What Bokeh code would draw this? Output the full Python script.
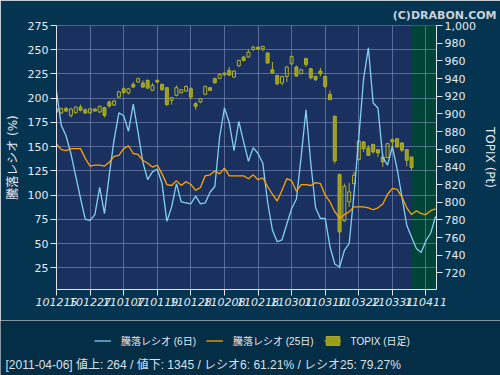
from bokeh.plotting import figure
from bokeh.layouts import column
from bokeh.models import (Range1d, LinearAxis, FixedTicker, NumeralTickFormatter,
                          BoxAnnotation, Legend, LegendItem, ColumnDataSource, Title, Label)
from bokeh.embed import file_html
from bokeh.resources import INLINE

# ---------------- data ----------------
date_labels = ["101215", "101227", "110107", "110119", "110128", "110208",
               "110218", "110301", "110310", "110322", "110331", "110411"]
label_step = 7
ratio_ticks = [25, 50, 75, 100, 125, 150, 175, 200, 225, 250, 275]
topix_ticks = [720, 740, 760, 780, 800, 820, 840, 860, 880, 900, 920, 940, 960, 980, 1000]

ratio6 = [207, 172, 161, 143, 120, 97, 75, 74, 80, 108,
          81, 121, 157, 185, 182, 166, 194, 165, 134, 116,
          124, 127, 112, 73, 88, 112, 93, 92, 91, 99,
          91, 92, 103, 109, 160, 190, 175, 146, 176, 155,
          135, 149, 143, 133, 93, 64, 52, 54, 70, 86,
          96, 140, 188, 133, 87, 76, 76, 47, 29, 26,
          43, 50, 101, 159, 220, 252, 195, 190, 139, 131,
          150, 127, 98, 69, 57, 45, 41, 53, 61, 78]
ratio25 = [153, 147, 146, 148, 148, 148, 138, 130, 131, 131,
           130, 134, 140, 141, 148, 151, 143, 142, 136, 133,
           129, 131, 122, 111, 110, 115, 110, 114, 111, 105,
           108, 120, 121, 125, 122, 128, 120, 120, 120, 120,
           117, 121, 116, 118, 109, 101, 94, 105, 117, 115,
           104, 111, 111, 110, 113, 112, 100, 93, 83, 76,
           80, 83, 88, 88, 88, 87, 85, 87, 91, 101,
           107, 106, 98, 87, 80, 84, 81, 80, 84, 86]

topix_open = [905.8, 901.0, 906.2, 898.3, 901.3, 907.7, 904.7, 901.0, 905.5, 902.1,
              907.0, 913.4, 910.0, 919.0, 928.4, 923.6, 933.3, 936.0, 934.9, 937.9,
              926.6, 937.9, 933.3, 929.6, 915.3, 920.9, 923.9, 925.8, 928.4, 911.5,
              913.4, 922.1, 929.6, 939.8, 940.1, 944.2, 949.2, 941.6, 954.4, 964.3,
              964.3, 973.0, 975.5, 973.7, 968.8, 949.9, 943.5, 934.9, 942.4, 956.7,
              953.0, 945.4, 962.4, 951.0, 942.4, 948.4, 942.4, 922.0, 897.2, 831.6,
              778.9, 800.4, 821.1, 848.2, 868.2, 861.4, 865.5, 859.5, 851.2, 850.5,
              870.8, 871.9, 867.0, 859.5, 851.2]
topix_close = [902.1, 905.8, 903.2, 905.5, 907.7, 904.0, 901.0, 905.8, 903.2, 908.5,
               898.3, 908.9, 914.5, 925.0, 924.3, 928.4, 930.3, 939.8, 930.3, 929.2,
               932.2, 936.0, 927.3, 910.4, 918.3, 929.6, 927.3, 931.1, 919.0, 908.5,
               917.2, 931.1, 926.6, 935.2, 944.6, 946.2, 943.9, 948.4, 960.5, 960.5,
               969.9, 975.5, 973.3, 976.3, 957.5, 946.2, 934.1, 942.4, 953.0, 965.0,
               942.8, 949.9, 956.0, 940.9, 939.0, 945.4, 931.1, 916.0, 846.7, 766.4,
               818.1, 811.7, 830.5, 869.3, 860.6, 853.0, 856.9, 855.7, 845.6, 866.3,
               868.2, 862.5, 858.8, 847.4, 839.2]
topix_high = [907.7, 907.0, 907.5, 907.0, 908.5, 910.4, 906.0, 906.5, 906.0, 909.5,
              908.0, 915.0, 916.0, 926.0, 930.0, 929.5, 936.0, 941.0, 937.9, 939.0,
              934.9, 938.6, 934.5, 930.5, 919.0, 932.2, 928.0, 932.0, 930.3, 913.4,
              918.0, 932.0, 930.0, 941.0, 946.0, 947.0, 953.0, 949.0, 961.0, 965.5,
              972.5, 977.0, 976.0, 977.0, 969.5, 958.6, 944.0, 943.0, 954.0, 966.0,
              954.8, 951.0, 963.5, 952.0, 943.0, 952.2, 943.0, 926.6, 898.0, 832.0,
              821.0, 821.8, 834.3, 870.0, 869.3, 864.4, 866.0, 860.0, 855.0, 867.0,
              872.0, 872.5, 867.5, 860.0, 851.5]
topix_low = [901.0, 900.0, 902.0, 895.7, 900.5, 902.8, 900.0, 900.0, 902.5, 901.0,
             896.0, 907.0, 909.0, 918.0, 923.0, 922.0, 929.6, 935.0, 929.6, 928.0,
             925.8, 934.9, 926.0, 909.0, 910.4, 919.8, 923.0, 925.0, 916.4, 904.7,
             912.0, 921.0, 926.0, 934.0, 939.5, 943.0, 942.8, 941.0, 953.0, 959.5,
             964.0, 971.0, 972.5, 970.7, 957.0, 945.7, 932.2, 932.5, 936.0, 955.0,
             942.3, 945.0, 953.0, 939.0, 937.0, 942.4, 929.0, 916.0, 843.7, 725.0,
             777.7, 794.7, 820.0, 847.5, 856.9, 853.0, 855.0, 851.2, 839.9, 850.0,
             860.6, 862.0, 856.9, 840.7, 836.1]

report_date = "2011-04-06"
advances = 264
declines = 1345
ratio6_last = "61.21"
ratio25_last = "79.27"

# ---------------- derived ----------------
days = list(range(len(ratio6)))
cdays = list(range(len(topix_close)))
body_top = [max(o, c) for o, c in zip(topix_open, topix_close)]
body_bot = [min(o, c) for o, c in zip(topix_open, topix_close)]
body_alpha = [1.0 if c < o else 0.0 for o, c in zip(topix_open, topix_close)]

candle_src = ColumnDataSource(dict(x=cdays, top=body_top, bottom=body_bot,
                                   high=topix_high, low=topix_low, falpha=body_alpha))

FONT = "DejaVu Sans, Noto Sans CJK JP"
JFONT = "Liberation Sans, Noto Sans CJK JP"
TXT = "#e4ebf2"
C6 = "#82cff2"
C25 = "#ffa200"
CFILL = "#9c9c1c"
CLINE = "#b0b026"
tick_pos = [i * label_step for i in range(len(date_labels))]

x_end = len(ratio6) - 1 + 0.2
p = figure(width=500, height=320, output_backend="svg", toolbar_location=None,
           x_range=Range1d(0, x_end), y_range=Range1d(2.75, 275),
           min_border_left=56, min_border_right=64, min_border_top=25, min_border_bottom=31,
           background_fill_color="#1a3160", border_fill_color="#053450",
           outline_line_color=None)
p.frame_align = False
p.extra_y_ranges = {"topix": Range1d(701.2, 1000)}

# future zone
green = BoxAnnotation(left=len(topix_close) - 1 - 0.1, fill_color="#004438",
                      fill_alpha=1.0, line_color=None, level="image")
p.add_layout(green)

# grid
p.xgrid.ticker = FixedTicker(ticks=tick_pos)
p.ygrid.ticker = FixedTicker(ticks=ratio_ticks)
p.grid.grid_line_color = "#8a9bc2"
p.grid.grid_line_alpha = 0.55
p.grid.grid_line_width = 1

# axes
xa = p.xaxis[0]
xa.ticker = FixedTicker(ticks=tick_pos)
xa.major_label_overrides = {t: s for t, s in zip(tick_pos, date_labels)}

ya = p.yaxis[0]
ya.ticker = FixedTicker(ticks=ratio_ticks)
ya.axis_label = "騰落レシオ (%)"

ra = LinearAxis(y_range_name="topix", ticker=FixedTicker(ticks=topix_ticks),
                formatter=NumeralTickFormatter(format="0,0"), axis_label="TOPIX (Pt)")
p.add_layout(ra, "right")

for ax in [xa, ya, ra]:
    ax.axis_line_color = "#dfe6ee"
    ax.major_tick_line_color = "#dfe6ee"
    ax.minor_tick_line_color = None
    ax.major_tick_out = 6
    ax.major_tick_in = 0
    ax.major_label_text_color = TXT
    ax.major_label_text_font = FONT
    ax.major_label_text_font_size = "11px"
    ax.major_label_standoff = 2
    ax.axis_label_text_color = TXT
    ax.axis_label_text_font = FONT
    ax.axis_label_text_font_size = "12px"
    ax.axis_label_text_font_style = "normal"
ya.axis_label_standoff = 5
ra.axis_label_standoff = 4
xa.major_label_text_font_style = "italic"

# candles
wick_up = p.segment(x0="x", y0="high", x1="x", y1="top", source=candle_src,
                    y_range_name="topix", line_color=CLINE, line_width=1)
wick_dn = p.segment(x0="x", y0="bottom", x1="x", y1="low", source=candle_src,
                    y_range_name="topix", line_color=CLINE, line_width=1)
body = p.vbar(x="x", width=0.62, top="top", bottom="bottom", source=candle_src,
              y_range_name="topix", fill_color=CFILL, fill_alpha="falpha",
              line_color=CLINE, line_width=1)

# ratio lines
l6 = p.line(days, ratio6, line_color=C6, line_width=1.3)
l25 = p.line(days, ratio25, line_color=C25, line_width=1.3)

copy = Title(text="(C)DRABON.COM", align="right", offset=-60, standoff=8,
             text_color="#c8d2dc", text_font="DejaVu Sans", text_font_size="11px",
             text_font_style="bold")
p.add_layout(copy, "above")

# ---------------- legend + footer strip ----------------
p2 = figure(width=500, height=55, output_backend="svg", toolbar_location=None,
            x_range=Range1d(0, 1), y_range=Range1d(0, 1),
            x_axis_type=None, y_axis_type=None, min_border=0,
            background_fill_color="#042d46", border_fill_color="#042d46",
            outline_line_color=None)
p2.frame_align = False
p2.grid.visible = False
nan = float("nan")
key_src = ColumnDataSource(dict(x=[0.5], y=[nan], top=[nan], bottom=[nan],
                                high=[nan], low=[nan]))
k6 = p2.line(x="x", y="y", source=key_src, line_color=C6, line_width=1.3)
k25 = p2.line(x="x", y="y", source=key_src, line_color=C25, line_width=1.3)
kw = p2.segment(x0="x", y0="high", x1="x", y1="low", source=key_src,
                line_color=CLINE, line_width=1)
kb = p2.vbar(x="x", width=0.01, top="top", bottom="bottom", source=key_src,
             fill_color=CFILL, line_color=CLINE)

legend = Legend(items=[LegendItem(label="騰落レシオ (6日)", renderers=[k6]),
                       LegendItem(label="騰落レシオ (25日)", renderers=[k25]),
                       LegendItem(label="TOPIX (日足)", renderers=[kw, kb])],
                orientation="horizontal", location=(94, 27),
                background_fill_alpha=0, border_line_color=None,
                label_text_color=TXT, label_text_font=JFONT,
                label_text_font_size="10px", glyph_width=17, glyph_height=11,
                label_standoff=10, spacing=10, padding=0, margin=0)
p2.add_layout(legend, "center")

footer = Label(x=5, y=11, x_units="screen", y_units="screen",
               text=f"[{report_date}] 値上: {advances} / 値下: {declines} / レシオ6: {ratio6_last}% / レシオ25: {ratio25_last}%",
               text_color="#d8e0e8", text_font=JFONT, text_font_size="12px",
               text_baseline="middle", text_align="left")
p2.add_layout(footer)

layout = column(p, p2, spacing=0)
open("out.html", "w").write(file_html(layout, INLINE))
